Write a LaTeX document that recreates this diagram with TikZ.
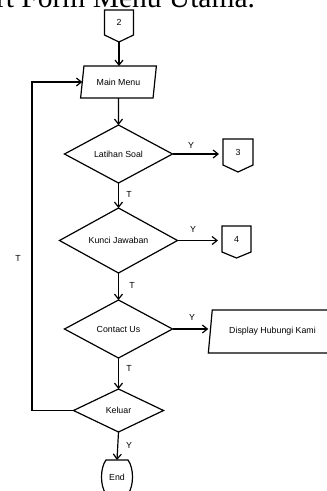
\documentclass[tikz,border=0pt]{standalone}
\usepackage{fontspec}
\setmainfont{Liberation Sans}
\newfontfamily\titlefont{Liberation Serif}
\usetikzlibrary{shapes.geometric,arrows.meta,calc}
\begin{document}
\begin{tikzpicture}[x=1pt,y=-1pt,
  line width=1.2pt,
  every node/.style={font=\fontsize{8.8}{10}\selectfont, inner sep=0pt, outer sep=0pt},
  dec/.style={diamond, draw, aspect=2},
  io/.style={trapezium, trapezium left angle=72, trapezium right angle=108, trapezium stretches=true, draw},
  arr/.style={-{Straight Barb[length=5pt,width=8pt]}}
]
\useasboundingbox (0,0) rectangle (327,491);
\clip (0,0) rectangle (327,491);
\node[anchor=base east, font=\titlefont\fontsize{29.5}{30}\selectfont] (title) at (255,7) {Flowchart Form Menu Utama.};

% connector 2
\node[minimum width=29pt, minimum height=25pt] (c2) at (119,22.5) {2};
\coordinate (c2p) at (119,42);
\draw (c2.north west) -- (c2.north east) -- (c2.south east) -- (c2p) -- (c2.south west) -- cycle;

\node[io, minimum width=76pt, minimum height=32pt] (menu) at (118.5,82) {Main Menu};
\node[dec, minimum width=108pt, minimum height=58pt] (lat) at (118.5,154) {Latihan Soal};
\node[dec, minimum width=118pt, minimum height=65pt] (kun) at (118.5,240.5) {Kunci Jawaban};
\node[dec, minimum width=108pt, minimum height=58pt] (con) at (118.5,329) {Contact Us};
\node[dec, minimum width=90pt, minimum height=43pt] (kel) at (118.5,410.5) {Keluar};
\node[minimum width=30pt, minimum height=34pt] (end) at (117,477) {End};
\draw ($(end.north west)+(4,0)$) -- ($(end.north east)+(-4,0)$)
  .. controls ($(end.north east)+(2,8)$) and ($(end.south east)+(2,-8)$) .. ($(end.south east)+(-4,0)$)
  -- ($(end.south west)+(4,0)$)
  .. controls ($(end.south west)+(-2,-8)$) and ($(end.north west)+(-2,8)$) .. ($(end.north west)+(4,0)$) -- cycle;

% connector 3
\node[minimum width=30pt, minimum height=26pt] (c3) at (238,152) {3};
\coordinate (c3p) at (238,172);
\draw (c3.north west) -- (c3.north east) -- (c3.south east) -- (c3p) -- (c3.south west) -- cycle;
% connector 4
\node[minimum width=29pt, minimum height=26pt] (c4) at (236.5,239) {4};
\coordinate (c4p) at (236.5,258);
\draw (c4.north west) -- (c4.north east) -- (c4.south east) -- (c4p) -- (c4.south west) -- cycle;

\node[io, trapezium left angle=71, trapezium right angle=109, minimum width=129pt, minimum height=43pt] (disp) at (272.5,331.5) {Display Hubungi Kami};

% arrows
\draw[arr] (c2p) -- (c2p |- menu.north);
\draw[arr] (menu.south) -- (lat.north);
\draw[arr] (lat.south) -- (kun.north);
\draw[arr] (kun.south) -- (con.north);
\draw[arr] (con.south) -- (kel.north);
\draw[arr] (kel.south) -- (end.north);
\draw[arr, shorten >=4pt] (lat.east) -- (lat.east -| c3.west);
\draw[arr, shorten >=4pt] (kun.east) -- (kun.east -| c4.west);
\draw[arr, shorten >=2pt] (con.east) -- (con.east -| disp.west);
\coordinate (lp) at (32,410.5);
\draw[arr] (kel.west) -- (lp) |- (menu.west);

% labels
\node (ly1) at (191,145) {Y};
\node (ly2) at (193,229) {Y};
\node (ly3) at (192,317) {Y};
\node (ly4) at (129,445) {Y};
\node (lt1) at (129,194) {T};
\node (lt2) at (132,285) {T};
\node (lt3) at (129,368) {T};
\node (lt4) at (18,258) {T};
\end{tikzpicture}
\end{document}
